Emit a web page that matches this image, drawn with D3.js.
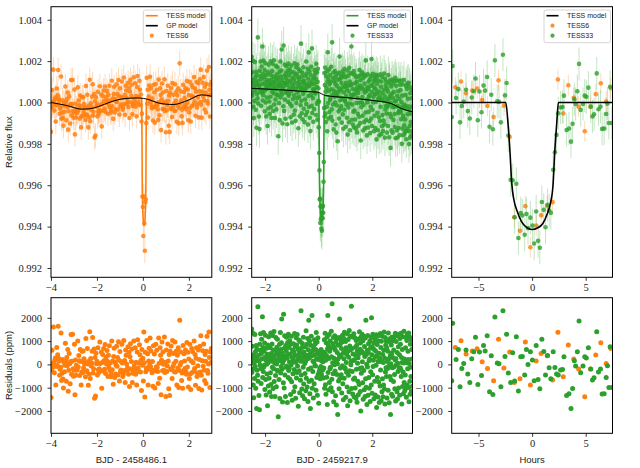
<!DOCTYPE html>
<html><head><meta charset="utf-8">
<script src="https://cdn.jsdelivr.net/npm/d3@7"></script>
<style>body{margin:0;background:#fff}</style>
</head><body><svg id="c" width="640" height="468"></svg>
<script>
// ---------------- DATA ----------------
// TESS sector 6 residuals (ppm), 30-min cadence from t=-4 to t=3 (BJD - 2458486.1)
const resid6 = [
-1420,-240,610,-130,40,1610,70,-360,180,280,-880,-90,730,-40,410,1640,260,150,-470,-210,-120,1350,-690,-380,
210,-630,-1010,90,-320,-40,910,150,-720,300,-60,640,-1150,-250,470,30,-830,120,1280,-420,130,1300,-190,-510,
-250,860,-1300,190,-470,-40,-250,-150,1010,-110,380,160,-480,640,120,-890,-330,560,-350,580,-160,240,20,90,
-530,1110,-310,-270,680,20,-900,140,-420,1400,-610,250,-70,60,560,1150,-370,-190,660,-1450,300,-1360,480,30,
130,-460,720,-230,-350,-190,960,40,-270,530,-1020,80,430,-280,680,170,-210,850,-390,320,20,600,140,-520,
390,-120,800,-260,60,-520,-410,1010,-230,150,-850,340,690,-560,90,-410,-40,780,-80,300,-460,970,180,-710,
550,-330,-240,110,860,60,-520,-410,1030,-260,170,-780,620,390,20,-280,-140,760,-420,510,-950,330,890,-200,
120,660,-780,-380,-300,1010,-60,-240,720,-420,90,-880,530,1060,-170,-300,50,840,410,-330,180,-1120,640,-40,
260,-710,1390,70,-1400,520,-320,-160,1030,-220,460,-880,150,690,-30,1130,-90,580,-230,-360,120,-940,800,-280,
450,-1010,-230,870,-100,610,-130,-310,-820,1130,50,-590,720,390,-1300,180,960,-270,530,10,-250,1180,-350,90,
-1380,620,-310,-70,880,150,-1050,420,-1340,560,-200,790,-230,-610,1030,-90,470,40,-320,960,-330,140,580,-880,
390,-150,710,-990,-260,1900,-30,530,80,-690,-370,-1020,810,-260,460,150,-180,620,-300,-420,940,-110,520,-970,
230,-610,860,-410,-1080,150,680,-350,540,70,-310,1000,-180,430,-900,260,720,-520,-360,-60,620,-1040,210,780,
-330,1230,-470,-1100,160,590,-80,880,-250,-690,420,140,-820,560,1210,-260,-380,20,1390,300,-990,530,80,680
];
const t6Start = -4, t6Span = 7;

// TESS sector 33 residuals (ppm), from t=-2.5 to t=3.5 (BJD - 2459217.9)
const resid33 = [
1520,-340,780,-210,260,1340,-880,410,-1430,50,120,-610,1280,-90,540,-1020,300,810,-1890,660,-250,190,-470,2480,
-720,380,160,-1340,150,-1950,870,-30,610,1320,-180,-820,470,1080,-140,240,2050,-560,730,-300,1370,-110,560,-40,
920,-1080,320,1250,-650,180,-1320,690,10,-410,440,-1780,830,70,-930,1190,360,-590,230,-1190,250,710,-360,1350,
-860,470,-1380,130,880,-120,1240,310,-1040,620,-190,1410,-730,380,60,-1380,210,-480,1150,540,-960,20,740,-250,
1080,-280,560,-2250,410,190,-650,290,870,-1470,160,1370,-370,640,-90,930,1950,-210,480,-1620,60,330,-790,2150,
190,-1010,690,1230,-460,350,-1380,810,-120,570,1170,-80,260,-1640,940,420,-560,1290,-260,730,-180,100,1020,-640,
450,-1290,870,-30,1210,-750,310,-1540,620,90,-400,200,890,-1160,540,-220,1330,-960,380,760,-1450,90,1140,-580,
830,-350,1280,-70,220,660,-1800,420,1050,-270,580,-1220,310,980,-680,140,2300,-460,710,-1060,160,900,-1350,470,
-120,1170,-840,530,330,-1480,40,-390,760,140,-1130,1450,-600,390,870,-970,240,1110,-1590,630,-210,1900,-740,280,
1000,-1260,450,-1900,820,-160,1210,-680,360,2100,-1020,590,-300,130,-1440,720,110,-830,1060,410,-40,880,-70,640,
-1110,1370,240,-560,960,-1330,510,1140,-420,210,-1670,420,-310,560,-180,250,-620,380,-90,640,-400,150,-520,290,
470,-230,110,-580,330,-150,520,1060,-1030,490,1340,-870,180,-1280,930,380,-550,1170,-1720,670,2100,-350,820,-1100,
250,1280,-780,560,-190,1010,-120,690,-1000,1420,330,-640,2600,-1180,70,890,-400,1150,-1600,260,740,-20,1230,-280,
620,-1350,950,140,-1740,1090,-430,510,30,-2150,230,820,-710,1160,-1050,400,1950,-610,870,-160,330,1040,-450,680,
-1230,960,-60,1250,-830,480,-1520,1120,240,-600,1380,-130,560,-190,980,-1410,710,80,-340,420,-970,1310,-1780,580,
1070,-470,310,-1180,1460,-270,790,-1560,620,1210,-20,150,2500,-1040,680,-300,1180,-1270,450,170,-640,1320,-1390,200,
-580,1140,-1010,740,390,-1450,1030,-210,820,-1630,560,50,-720,290,-1300,1090,460,-860,1400,-180,650,-1160,920,-2000,
1180,-380,580,-140,1300,110,-790,1020,-1500,480,-260,1210,-1090,770,340,-1380,1130,-620,1900,-980,430,10,-1720,610,
-110,1240,-1330,520,890,-560,160,-1020,230,1000,-1590,690,-320,1160,-880,2000,410,-1240,760,-450,1290,-90,180,930,
-1480,640,1130,-720,320,-1310,1040,560,-40,1270,-1850,370,850,-560,1210,-1400,140,1010,-760,480,-1640,120,260,-930,
1330,-240,730,-1560,990,120,-1170,1210,-620,430,-1390,80,-880,610,1390,-1060,280,-1700,1150,-330,820,-140,1010,-520,
700,-1440,120,-180,560,-1110,1350,-80,240,-1650,960,1100,-520,380,-2150,30,-660,830,-1280,490,1180,-140,-1370,300,
1020,-740,620,-100,1180,-430,-1050,190,1340,-1570,240,980,-20,1230,-1170,510,-1490,50,-300,760,-1010,1290,-160,410,
-1330,1110,-140,870,-210,1340,-520,300,-1700,80,640,-950,1190,-330,-1260,60,1420,-780,230,-1130,170,-460,710,-1020,
1160,-1410,70,1030,-890,1300,-190,570,210,-990,1350,-1610,40,1180,-720,-1280,870,-120,-520,1060,-1150,640,230,-940
];
const t33Start = -2.5, t33Span = 6;

// GP (stellar variability) model knots
const gp6T = [-4, -3.3, -2.67, -2.3, -1.94, -1.4, -0.78, -0.2, 0.23, 0.66, 1.32, 1.97, 2.55, 3.0];
const gp6F = [1.0000, 0.99985, 0.99968, 0.9997, 0.9998, 1.00003, 1.00019, 1.00022, 1.00015, 0.99998, 0.9999, 1.00011, 1.00037, 1.0003];
const gp33T = [-2.5, -1.5, -0.5, -0.05, 0.25, 1.0, 2.0, 2.7, 3.1, 3.5];
const gp33F = [1.00068, 1.00062, 1.00053, 1.0005, 1.00034, 1.00024, 1.0001, 0.99995, 0.9997, 0.99955];

// transit model (hours from mid-transit -> relative flux)
const trH = [-2.45, -2.25, -2.05, -1.9, -1.7, -1.4, -1.0, -0.5, 0, 0.5, 1.0, 1.4, 1.7, 1.95, 2.1, 2.3, 2.45];
const trF = [1.0, 0.9990, 0.9975, 0.9961, 0.9953, 0.99475, 0.99425, 0.99395, 0.99386, 0.99393, 0.99415, 0.9946, 0.9951, 0.9960, 0.9975, 0.9990, 1.0];
const t0_6 = 0.05, t0_33 = 0.105;

// phase-folded, binned data: hours and residuals (ppm)
const fold6H = [-7.16,-6.63,-6.16,-5.59,-5.13,-4.66,-4.16,-3.59,-3.13,-2.63,-2.09,-1.66,-1.13,-0.63,-0.16,0.38,0.84,1.41,1.91,2.41,2.91,3.38,3.88,4.34,4.91,5.44,5.94,6.41,6.91,7.34];
const fold6R = [731,1018,445,574,674,115,-172,-703,1076,-158,531,-774,-617,961,-889,143,473,373,-674,1377,-531,832,229,-201,-1391,-201,402,932,43,688];
const fold33H = [-7.41,-7.5,-7.09,-6.88,-6.72,-6.56,-6.38,-6.16,-6.0,-5.81,-5.63,-5.44,-5.28,-5.06,-4.91,-4.72,-4.53,-4.38,-4.19,-3.97,-3.81,-3.66,-3.47,-3.25,-3.09,-2.91,-2.72,-2.53,-2.38,-2.22,-2.0,-1.81,-1.63,-1.47,-1.28,-1.06,-0.91,-0.69,-0.53,-0.38,-0.16,0.03,0.19,0.38,0.56,0.72,0.91,1.09,1.25,1.44,1.59,1.75,1.97,2.13,2.28,2.44,2.66,2.84,2.97,3.22,3.44,3.63,3.78,3.94,4.06,4.22,4.38,4.53,4.75,4.91,5.06,5.25,5.47,5.63,5.78,6.03,6.19,6.38,6.53,6.72,6.91,7.03,7.16,7.28,7.44];
const fold33R = [1764,-703,215,645,-961,-172,43,617,-416,-774,244,545,1162,-860,531,-473,817,574,1233,-1176,373,-1291,2036,57,29,-961,2309,344,1291,-373,-774,502,-717,1190,-1147,330,344,-459,645,0,545,186,-703,817,-645,-1047,1076,559,-459,387,-143,-617,545,-129,-416,-459,-244,-215,330,-1334,-1262,-1893,-1032,158,-72,545,1864,-358,-72,330,272,717,-201,-674,-574,1405,-330,-201,-1276,-1262,-559,-57,-989,760,-989];

// uncertainties (relative flux)
const err6 = 0.0006, err33 = 0.0009, errFold6 = 0.0005, errFold33 = 0.0008;

// ticks and labels
const fluxTicks = [0.992, 0.994, 0.996, 0.998, 1.000, 1.002, 1.004];
const residTicks = [-2000, -1000, 0, 1000, 2000];
const xTicks6 = [-4, -2, 0, 2], xTicks33 = [-2, 0, 2], xTicksHr = [-5, 0, 5];
const xLabels = ["BJD - 2458486.1", "BJD - 2459217.9", "Hours"];
const yLabelTop = "Relative flux", yLabelBot = "Residuals (ppm)";

const ORANGE = "#ff7f0e", GREEN = "#2ca02c";

// ---------------- HELPERS ----------------
function lin(xs, ys, x) {
  if (x <= xs[0]) return ys[0];
  if (x >= xs[xs.length - 1]) return ys[ys.length - 1];
  const i = d3.bisectRight(xs, x);
  const f = (x - xs[i - 1]) / (xs[i] - xs[i - 1]);
  return ys[i - 1] + f * (ys[i] - ys[i - 1]);
}
function transit(h) { return (h <= trH[0] || h >= trH[trH.length - 1]) ? 1 : lin(trH, trF, h); }
function model(t, gpT, gpF, t0) { return lin(gpT, gpF, t) + transit((t - t0) * 24) - 1; }

const svg = d3.select("#c");
const W = 160.8;
const lefts = [51, 251.7, 451.7];
const topY = [6.7, 277.3], botY = [297.7, 433.3];
const xDomains = [[-4, 3], [-2.5, 3.5], [-7.5, 7.5]];
const xTickSets = [xTicks6, xTicks33, xTicksHr];
const SERIF = "'Liberation Serif', 'DejaVu Serif', serif";
const SANS = "'Liberation Sans', Arial, sans-serif";

const fmtFlux = d3.format(".3f"), fmtRes = d3.format("d"), fmtX = d3.format("d");

let clipId = 0;
function makePanel(i, yRange, yDomain, yTicks, yFmt) {
  const x = d3.scaleLinear().domain(xDomains[i]).range([lefts[i], lefts[i] + W]);
  const y = d3.scaleLinear().domain(yDomain).range([yRange[1], yRange[0]]);
  const g = svg.append("g");
  const cid = "clip" + (clipId++);
  svg.append("clipPath").attr("id", cid).append("rect")
    .attr("x", lefts[i]).attr("y", yRange[0]).attr("width", W).attr("height", yRange[1] - yRange[0]);
  const plot = g.append("g").attr("clip-path", `url(#${cid})`);
  const ax = g.append("g");
  const xa = ax.append("g").attr("transform", `translate(0,${yRange[1]})`)
    .call(d3.axisBottom(x).tickValues(xTickSets[i]).tickFormat(fmtX).tickSize(3.5).tickPadding(3));
  const ya = ax.append("g").attr("transform", `translate(${lefts[i]},0)`)
    .call(d3.axisLeft(y).tickValues(yTicks).tickFormat(yFmt).tickSize(3.5).tickPadding(5.5));
  [xa, ya].forEach(a => {
    a.select(".domain").remove();
    a.attr("font-family", SERIF).attr("font-size", 10.5);
    a.selectAll("text").attr("fill", "#222").style("font-family", SERIF);
    a.selectAll("line").attr("stroke", "#000").attr("stroke-width", 0.8);
  });
  ax.append("rect").attr("x", lefts[i]).attr("y", yRange[0]).attr("width", W).attr("height", yRange[1] - yRange[0])
    .attr("fill", "none").attr("stroke", "#000").attr("stroke-width", 1);
  return { x, y, plot, g };
}

function errPoints(p, data, color, err, r, op) {
  p.plot.append("g").selectAll("line").data(data).join("line")
    .attr("x1", d => p.x(d.t)).attr("x2", d => p.x(d.t))
    .attr("y1", d => p.y(d.f - err)).attr("y2", d => p.y(d.f + err))
    .attr("stroke", color).attr("stroke-opacity", 0.28).attr("stroke-width", 1);
  p.plot.append("g").selectAll("circle").data(data).join("circle")
    .attr("cx", d => p.x(d.t)).attr("cy", d => p.y(d.f)).attr("r", r)
    .attr("fill", color).attr("fill-opacity", op);
}
function resPoints(p, data, color) {
  p.plot.append("g").selectAll("circle").data(data).join("circle")
    .attr("cx", d => p.x(d.t)).attr("cy", d => p.y(d.r)).attr("r", 2.5).attr("fill", color);
}
function legend(i, entries) {
  const x0 = lefts[i] + W - 68.5, y0 = 10;
  const g = svg.append("g");
  g.append("rect").attr("x", x0).attr("y", y0).attr("width", 66.5).attr("height", 32.7).attr("rx", 2)
    .attr("fill", "#fff").attr("fill-opacity", 0.85).attr("stroke", "#cccccc").attr("stroke-width", 0.8);
  entries.forEach((e, k) => {
    const yy = y0 + 5.7 + k * 10;
    if (e.type === "line") g.append("line").attr("x1", x0 + 2.5).attr("x2", x0 + 14.5).attr("y1", yy).attr("y2", yy)
      .attr("stroke", e.color).attr("stroke-width", 1.6);
    else g.append("circle").attr("cx", x0 + 8.5).attr("cy", yy).attr("r", 2.1).attr("fill", e.color).attr("fill-opacity", 0.85);
    g.append("text").attr("x", x0 + 23).attr("y", yy + 2.5).text(e.label)
      .attr("font-family", SANS).attr("font-size", 7).attr("fill", "#222");
  });
}

// ---------------- BUILD DATA ----------------
const cad6 = t6Span / resid6.length, cad33 = t33Span / resid33.length;
const d6 = resid6.map((r, k) => { const t = t6Start + k * cad6; return { t, r, f: model(t, gp6T, gp6F, t0_6) + r * 1e-6 }; });
const d33 = resid33.map((r, k) => { const t = t33Start + k * cad33; return { t, r, f: model(t, gp33T, gp33F, t0_33) + r * 1e-6 }; });
const f6 = fold6H.map((h, k) => ({ t: h, r: fold6R[k], f: transit(h) + fold6R[k] * 1e-6 }));
const f33 = fold33H.map((h, k) => ({ t: h, r: fold33R[k], f: transit(h) + fold33R[k] * 1e-6 }));

const topDom = [0.99155, 1.00463], botDom = [-2960, 2865];

function modelLine(gpT, gpF, t0, dom) {
  const ts = Array.from(new Set(gpT.concat(trH.map(h => t0 + h / 24)).concat(dom))).sort((a, b) => a - b)
    .filter(t => t >= dom[0] && t <= dom[1]);
  return ts.map(t => ({ t, f: model(t, gpT, gpF, t0) }));
}

// Panel 1 top
const p1 = makePanel(0, topY, topDom, fluxTicks, fmtFlux);
errPoints(p1, d6, ORANGE, err6, 2.3, 0.85);
const lineGen = p => d3.line().x(d => p.x(d.t)).y(d => p.y(d.f)).curve(d3.curveMonotoneX);
p1.plot.append("path").datum(modelLine(gp6T, gp6F, t0_6, xDomains[0])).attr("d", lineGen(p1))
  .attr("fill", "none").attr("stroke", ORANGE).attr("stroke-width", 1.6);
p1.plot.append("path").datum(gp6T.map((t, k) => ({ t, f: gp6F[k] }))).attr("d", lineGen(p1))
  .attr("fill", "none").attr("stroke", "#000").attr("stroke-width", 1);

// Panel 2 top
const p2 = makePanel(1, topY, topDom, fluxTicks, fmtFlux);
errPoints(p2, d33, GREEN, err33, 2.3, 0.85);
p2.plot.append("path").datum(modelLine(gp33T, gp33F, t0_33, xDomains[1])).attr("d", lineGen(p2))
  .attr("fill", "none").attr("stroke", GREEN).attr("stroke-width", 1.6);
p2.plot.append("path").datum(gp33T.map((t, k) => ({ t, f: gp33F[k] }))).attr("d", lineGen(p2))
  .attr("fill", "none").attr("stroke", "#000").attr("stroke-width", 1);

// Panel 3 top
const p3 = makePanel(2, topY, topDom, fluxTicks, fmtFlux);
errPoints(p3, f6, ORANGE, errFold6, 2.3, 0.8);
errPoints(p3, f33, GREEN, errFold33, 2.3, 0.8);
const tr3 = [{ t: -7.5, f: 1 }].concat(trH.map((h, k) => ({ t: h, f: trF[k] }))).concat([{ t: 7.5, f: 1 }]);
p3.plot.append("path").datum(tr3).attr("d", lineGen(p3))
  .attr("fill", "none").attr("stroke", "#000").attr("stroke-width", 1.6);

// Bottom residual panels
const b1 = makePanel(0, botY, botDom, residTicks, fmtRes);
resPoints(b1, d6, ORANGE);
const b2 = makePanel(1, botY, botDom, residTicks, fmtRes);
resPoints(b2, d33, GREEN);
const b3 = makePanel(2, botY, botDom, residTicks, fmtRes);
resPoints(b3, f6, ORANGE);
resPoints(b3, f33, GREEN);

// Legends
legend(0, [{ type: "line", color: ORANGE, label: "TESS model" }, { type: "line", color: "#000", label: "GP model" }, { type: "dot", color: ORANGE, label: "TESS6" }]);
legend(1, [{ type: "line", color: GREEN, label: "TESS model" }, { type: "line", color: "#000", label: "GP model" }, { type: "dot", color: GREEN, label: "TESS33" }]);
legend(2, [{ type: "line", color: "#000", label: "TESS model" }, { type: "dot", color: ORANGE, label: "TESS6" }, { type: "dot", color: GREEN, label: "TESS33" }]);

// Axis labels
xLabels.forEach((s, i) => {
  svg.append("text").attr("x", lefts[i] + W / 2).attr("y", 462.5).attr("text-anchor", "middle")
    .attr("font-family", SANS).attr("font-size", 9.5).attr("fill", "#222").text(s);
});
svg.append("text").attr("transform", `translate(12,${(topY[0] + topY[1]) / 2}) rotate(-90)`).attr("text-anchor", "middle")
  .attr("font-family", SANS).attr("font-size", 9.5).attr("fill", "#222").text(yLabelTop);
svg.append("text").attr("transform", `translate(12,${(botY[0] + botY[1]) / 2}) rotate(-90)`).attr("text-anchor", "middle")
  .attr("font-family", SANS).attr("font-size", 9.5).attr("fill", "#222").text(yLabelBot);
</script>
</body></html>
